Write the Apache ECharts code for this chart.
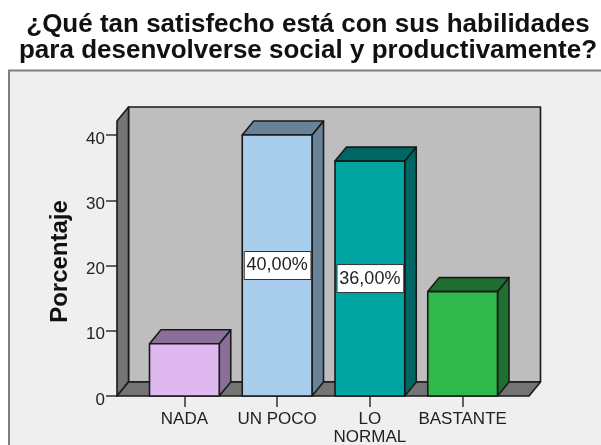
<!DOCTYPE html>
<html><head><meta charset="utf-8">
<style>html,body{margin:0;padding:0;background:#fff}#c{width:601px;height:445px}</style>
<script src="https://cdn.jsdelivr.net/npm/echarts@6/dist/echarts.min.js"></script>
</head><body><div id="c"></div>
<script>
const titleLines = ['¿Qué tan satisfecho está con sus habilidades','para desenvolverse social y productivamente?'];
const categories = ['NADA','UN POCO','LO\nNORMAL','BASTANTE'];
const values = [8,40,36,16];
const barLabels = ['','40,00%','36,00%',''];
const faceColors = ['#dfb8f0','#a9cdec','#00a5a2','#2fb84b'];
const sideColors = ['#8a7098','#6a8298','#006664','#1e7030'];
const yTicks = [0,10,20,30,40];

const DX=11.5, DY=14, PAD=21, PADR=20, WALLTOP=14, EDGE='#1a1a1a';
const chart = echarts.init(document.getElementById('c'),null,{renderer:'canvas'});
const poly=(pts,fill,z)=>({type:'polygon',shape:{points:pts},z2:z||0,style:{fill:fill,stroke:EDGE,lineWidth:1.6,lineJoin:'round'}});

function renderFrame(params,api){
  const c=params.coordSys, L=c.x-PAD, R=c.x+c.width+PADR, B=c.y+c.height, T=c.y-WALLTOP;
  return {type:'group',children:[
    poly([[L+DX,T-DY],[R+DX,T-DY],[R+DX,B-DY],[L+DX,B-DY]],'#bebebe'),
    poly([[L,T],[L+DX,T-DY],[L+DX,B-DY],[L,B]],'#747474'),
    poly([[L,B],[L+DX,B-DY],[R+DX,B-DY],[R,B]],'#747474')
  ]};
}
function renderBar(params,api){
  const i=api.value(0), v=api.value(1), top=api.coord([i,v]), base=api.coord([i,0]);
  const w=api.size([1,0])[0]*0.752, x0=top[0]-w/2, x1=top[0]+w/2, y0=top[1], y1=base[1];
  const kids=[
    poly([[x1,y0],[x1+DX,y0-DY],[x1+DX,y1-DY],[x1,y1]],sideColors[i]),
    poly([[x0,y0],[x0+DX,y0-DY],[x1+DX,y0-DY],[x1,y0]],sideColors[i]),
    poly([[x0,y0],[x1,y0],[x1,y1],[x0,y1]],faceColors[i])
  ];
  if(barLabels[i]){
    const my=(y0+y1)/2;
    kids.push({type:'rect',shape:{x:x0+2,y:my-14,width:w-3,height:28},style:{fill:'#ffffff',stroke:'#333',lineWidth:1}});
    kids.push({type:'text',style:{x:top[0],y:my,text:barLabels[i],fill:'#222',font:'18px "Liberation Sans"',align:'center',verticalAlign:'middle'}});
  }
  return {type:'group',children:kids};
}
chart.setOption({
  animation:false,
  backgroundColor:'#ffffff',
  graphic:[{type:'rect',z:-10,shape:{x:9,y:70.5,width:620,height:420},style:{fill:'#efefef',stroke:'#7f7f7f',lineWidth:2}}],
  title:{text:titleLines.join('\n'),left:308,top:12,padding:0,textAlign:'center',
    textStyle:{fontFamily:'"Liberation Sans"',fontWeight:'bold',fontSize:26,lineHeight:26,color:'#111'}},
  grid:{left:138,right:92,top:135,bottom:49,outerBoundsMode:'none'},
  xAxis:{type:'category',data:categories,
    axisLine:{show:false},
    axisTick:{show:true,alignWithLabel:true,length:11,lineStyle:{color:'#333',width:1.5}},
    axisLabel:{interval:0,margin:14,fontFamily:'"Liberation Sans"',fontSize:17,color:'#222',lineHeight:18.5}},
  yAxis:{type:'value',min:0,max:40,interval:10,offset:PAD,
    name:'Porcentaje',nameLocation:'middle',nameGap:45,nameRotate:90,
    nameTextStyle:{fontFamily:'"Liberation Sans"',fontWeight:'bold',fontSize:24,color:'#111',padding:[0,0,0,8]},
    splitLine:{show:false},
    axisLine:{show:false},
    axisTick:{show:true,length:11,lineStyle:{color:'#333',width:1.5}},
    axisLabel:{margin:12,verticalAlign:'top',lineHeight:8,fontFamily:'"Liberation Sans"',fontSize:17,color:'#222',
      formatter:v=>yTicks.includes(v)?String(v):''}},
  series:[
    {type:'custom',name:'frame',data:[[0,0]],renderItem:renderFrame,silent:true,z:1,clip:false},
    {type:'custom',name:'Porcentaje',data:values.map((v,i)=>[i,v]),encode:{x:0,y:1},renderItem:renderBar,z:2,clip:false}
  ]
});
</script></body></html>
